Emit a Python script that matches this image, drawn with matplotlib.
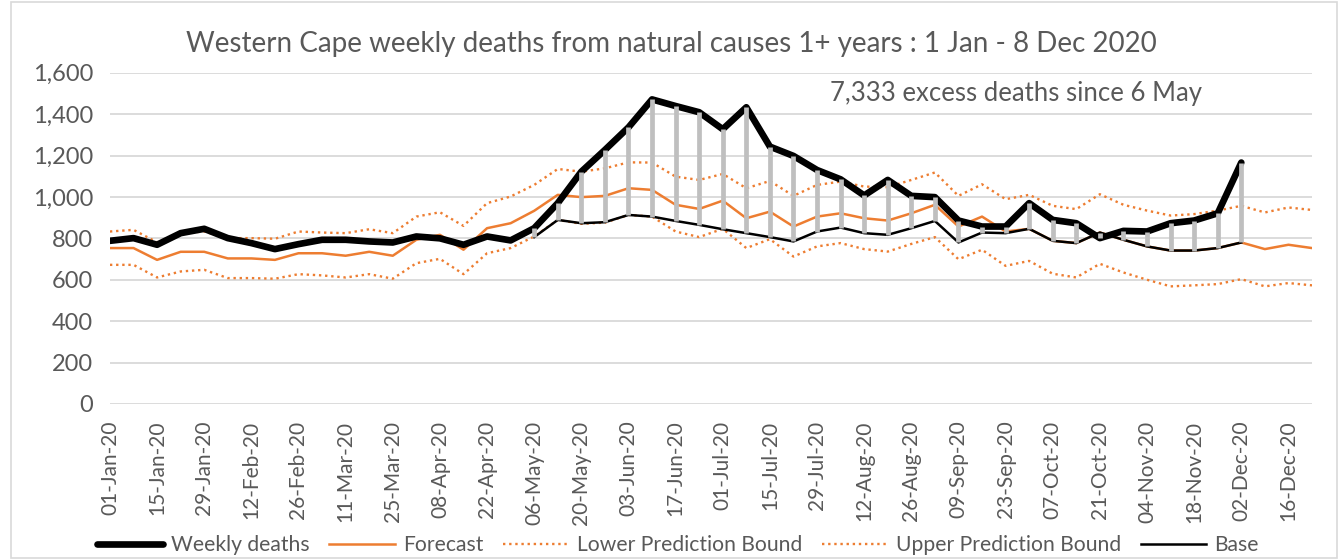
import matplotlib
matplotlib.use("Agg")
import matplotlib.pyplot as plt
from matplotlib.ticker import FuncFormatter
from matplotlib.patches import Rectangle
import numpy as np
import pandas as pd

# week starting dates (category axis)
weeks = pd.date_range("2020-01-01", periods=52, freq="7D")
week_labels = [d.strftime("%d-%b-%y") for d in weeks]

weekly_deaths = [788, 801, 769, 825, 846, 801, 777, 748, 772, 793,
                 793, 785, 780, 809, 800, 769, 809, 790, 849, 970,
                 1122, 1227, 1336, 1471, 1439, 1409, 1327, 1433, 1243, 1198,
                 1130, 1085, 1007, 1082, 1005, 999, 886, 857, 857, 970,
                 889, 873, 801, 836, 833, 873, 886, 921, 1166]

forecast = [753, 753, 696, 735, 735, 703, 703, 696, 728, 728,
            716, 735, 716, 793, 817, 745, 849, 873, 933, 1010,
            999, 1005, 1042, 1034, 962, 942, 982, 897, 929, 857,
            905, 921, 897, 886, 921, 962, 857, 905, 833, 846,
            788, 777, 828, 793, 761, 741, 741, 753, 780, 748,
            769, 753]

upper_bound = [833, 841, 781, 825, 833, 801, 801, 798, 833, 828,
               825, 844, 825, 905, 926, 860, 970, 1002, 1058, 1135,
               1122, 1138, 1167, 1166, 1098, 1082, 1111, 1042, 1077, 1005,
               1058, 1074, 1050, 1047, 1082, 1118, 1005, 1061, 989, 1010,
               957, 941, 1013, 962, 934, 910, 917, 934, 957, 925,
               949, 937]

lower_bound = [672, 672, 611, 640, 648, 608, 608, 605, 627, 621,
               611, 627, 605, 680, 701, 627, 728, 753, 809, 889,
               870, 876, 913, 905, 833, 806, 846, 753, 796, 712,
               761, 777, 748, 736, 773, 806, 699, 745, 667, 691,
               629, 611, 677, 635, 600, 568, 573, 579, 603, 568,
               584, 573]

# base starts on 06-May-20 (week 18)
base_start = 18
base = [806, 889, 873, 878, 913, 905, 884, 865, 844, 825,
        806, 785, 833, 852, 825, 817, 849, 884, 780, 828,
        825, 846, 788, 777, 828, 793, 761, 741, 741, 753, 780]

title = "Western Cape weekly deaths from natural causes 1+ years : 1 Jan - 8 Dec 2020"
note = "7,333 excess deaths since 6 May"

plt.rcParams["font.family"] = ["Lato", "DejaVu Sans"]
textCol = "#595959"
orange = "#ED7D31"

fig = plt.figure(figsize=(13.44, 5.6), dpi=100)
ax = fig.add_axes([0.0818, 0.2786, 0.8944, 0.5916])

x = np.arange(len(forecast))
xw = np.arange(len(weekly_deaths))
xb = np.arange(base_start, base_start + len(base))

ax.plot(x, upper_bound, color=orange, lw=1.7, ls=(0, (1, 1.6)), label="Upper Prediction Bound", zorder=2)
ax.plot(x, lower_bound, color=orange, lw=1.7, ls=(0, (1, 1.6)), label="Lower Prediction Bound", zorder=2)
ax.plot(x, forecast, color=orange, lw=1.8, label="Forecast", zorder=3)
ax.plot(xb, base, color="black", lw=1.8, label="Base", zorder=4)
ax.plot(xw, weekly_deaths, color="black", lw=4.8, solid_joinstyle="round",
        solid_capstyle="round", label="Weekly deaths", zorder=5)

# excess bars between base and weekly deaths
ax.vlines(xb, base, np.array(weekly_deaths)[xb], color="#BFBFBF", lw=3.4, zorder=6)

ax.set_xlim(0, len(forecast) - 1)
ax.set_ylim(0, 1600)
ax.set_yticks(np.arange(0, 1601, 200))
ax.yaxis.set_major_formatter(FuncFormatter(lambda v, p: "{:,.0f}".format(v)))
ax.set_xticks(x[::2])
ax.set_xticklabels(week_labels[::2], rotation=90)
ax.tick_params(axis="x", length=0, colors=textCol, labelsize=15, pad=12)
ax.tick_params(axis="y", length=0, colors=textCol, labelsize=17, pad=12)
ax.grid(axis="y", color="#D9D9D9", lw=1.3)
ax.set_axisbelow(True)
for s in ax.spines.values():
    s.set_visible(False)

fig.text(0.4995, 0.922, title, ha="center", va="center", fontsize=20, color=textCol)
ax.text(0.754, 0.938, note, transform=ax.transAxes, ha="center", va="center", fontsize=18.5, color=textCol)

h, l = ax.get_legend_handles_labels()
order = ["Weekly deaths", "Forecast", "Lower Prediction Bound", "Upper Prediction Bound", "Base"]
hs = [h[l.index(o)] for o in order]
fig.legend(hs, order, loc="center", bbox_to_anchor=(0.5045, 0.026), ncol=5, frameon=False,
           fontsize=15.2, labelcolor=textCol, handlelength=3.1, columnspacing=0.95,
           handletextpad=0.38, borderpad=0)

fig.patches.append(Rectangle((0.008, 0.004), 0.987, 0.992, transform=fig.transFigure,
                             fill=False, ec="#D9D9D9", lw=1.2))

fig.savefig("out.png", dpi=100)
